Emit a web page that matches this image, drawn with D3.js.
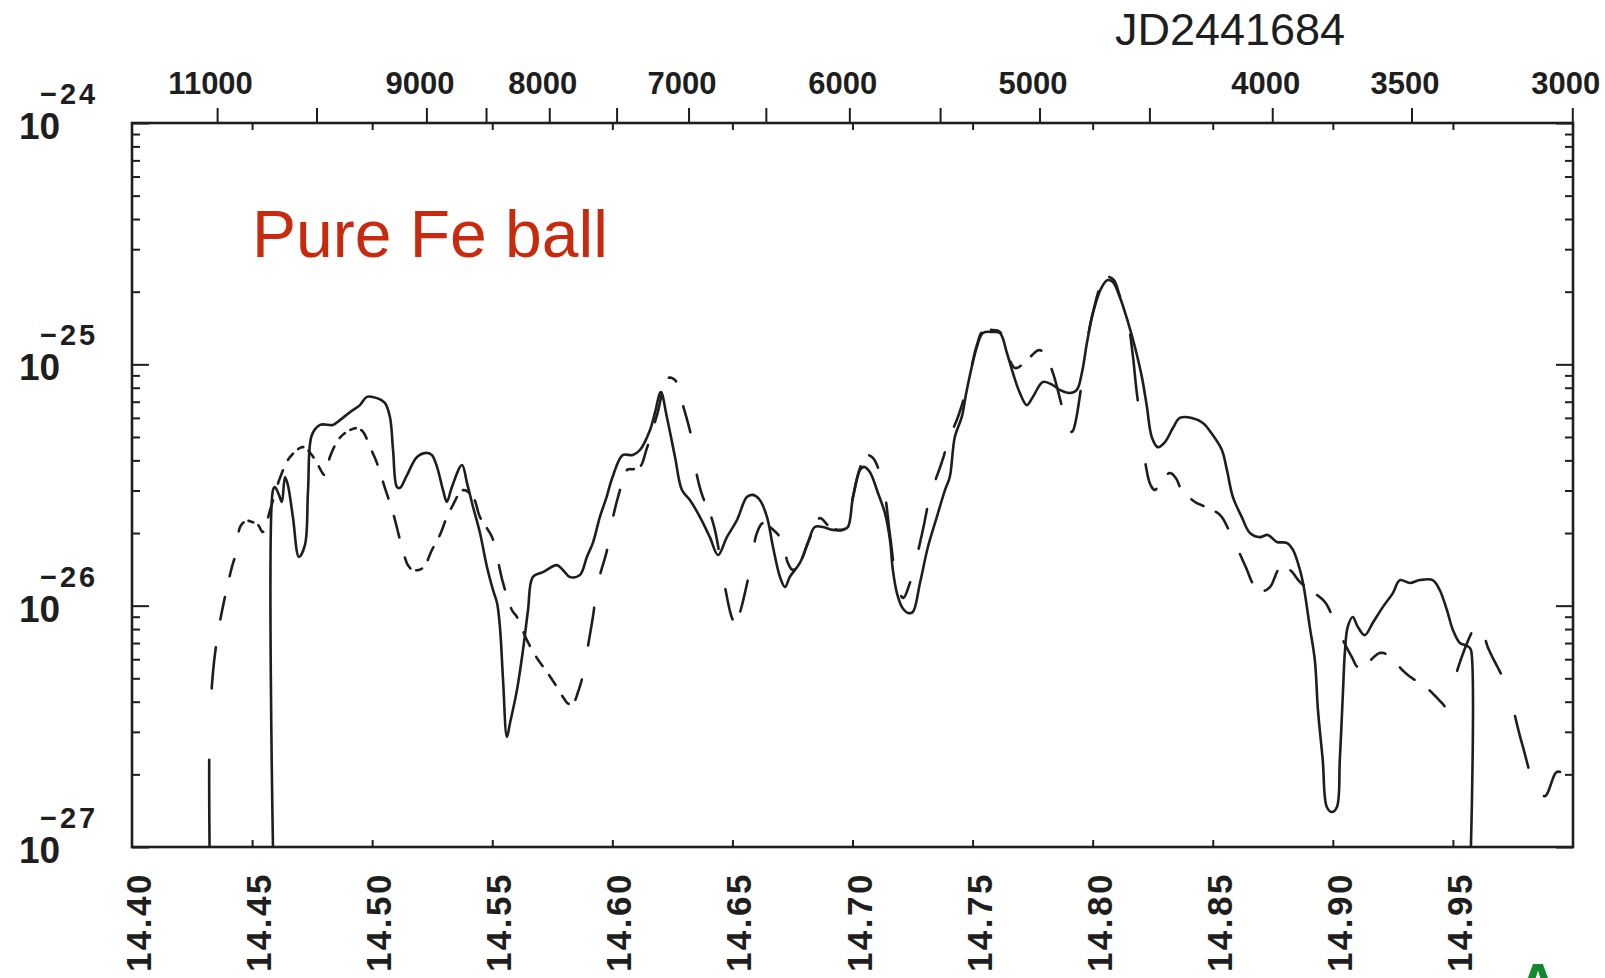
<!DOCTYPE html>
<html>
<head>
<meta charset="utf-8">
<script src="https://cdn.jsdelivr.net/npm/d3@7"></script>
<style>
  html, body { margin: 0; padding: 0; background: #fff; }
  svg { display: block; }
  text { font-family: "Liberation Sans", Arial, sans-serif; }
</style>
</head>
<body>
<svg id="chart" width="1605" height="978"></svg>
<script>
// ---- data: [log10 frequency (Hz), log10 flux] ----
const solidCurve = [
  [14.4587,-27.0],[14.4587,-25.521],[14.4595,-25.508],[14.4612,-25.541],[14.4624,-25.570],[14.4637,-25.467],
  [14.4649,-25.500],[14.4670,-25.633],[14.4695,-25.798],[14.4720,-25.749],[14.4733,-25.521],[14.4749,-25.293],
  [14.4783,-25.251],[14.4837,-25.251],[14.4866,-25.231],[14.4908,-25.198],[14.4949,-25.169],[14.4978,-25.135],
  [14.5020,-25.140],[14.5053,-25.160],[14.5074,-25.218],[14.5087,-25.355],[14.5103,-25.508],[14.5116,-25.512],
  [14.5145,-25.459],[14.5187,-25.384],[14.5228,-25.367],[14.5249,-25.376],[14.5270,-25.425],[14.5295,-25.521],
  [14.5311,-25.570],[14.5332,-25.508],[14.5374,-25.417],[14.5395,-25.492],[14.5420,-25.591],[14.5449,-25.699],
  [14.5478,-25.840],[14.5503,-25.935],[14.5520,-25.989],[14.5532,-26.088],[14.5545,-26.308],[14.5561,-26.544],
  [14.5574,-26.486],[14.5603,-26.349],[14.5628,-26.184],[14.5649,-26.018],[14.5669,-25.881],[14.5711,-25.861],
  [14.5769,-25.832],[14.5794,-25.852],[14.5823,-25.881],[14.5865,-25.873],[14.5894,-25.798],[14.5919,-25.740],
  [14.5948,-25.633],[14.5976,-25.550],[14.6001,-25.467],[14.6043,-25.376],[14.6085,-25.376],[14.6115,-25.355],
  [14.6157,-25.272],[14.6177,-25.202],[14.6202,-25.115],[14.6227,-25.218],[14.6261,-25.384],[14.6290,-25.521],
  [14.6323,-25.562],[14.6365,-25.633],[14.6406,-25.716],[14.6440,-25.790],[14.6477,-25.716],[14.6519,-25.645],
  [14.6560,-25.550],[14.6585,-25.541],[14.6614,-25.562],[14.6644,-25.633],[14.6669,-25.757],[14.6698,-25.881],
  [14.6719,-25.923],[14.6739,-25.881],[14.6781,-25.823],[14.6814,-25.740],[14.6843,-25.674],[14.6877,-25.674],
  [14.6918,-25.686],[14.6960,-25.686],[14.6981,-25.674],[14.7002,-25.550],[14.7031,-25.438],[14.7048,-25.425],
  [14.7072,-25.446],[14.7106,-25.533],[14.7135,-25.616],[14.7156,-25.728],[14.7168,-25.852],[14.7185,-25.948],
  [14.7206,-26.006],[14.7231,-26.030],[14.7251,-26.026],[14.7281,-25.906],[14.7314,-25.757],[14.7351,-25.633],
  [14.7385,-25.521],[14.7405,-25.467],[14.7426,-25.301],[14.7455,-25.218],[14.7476,-25.106],[14.7518,-24.928],
  [14.7543,-24.870],[14.7585,-24.866],[14.7614,-24.870],[14.7643,-24.953],[14.7668,-25.036],[14.7697,-25.119],
  [14.7726,-25.169],[14.7751,-25.135],[14.7793,-25.073],[14.7834,-25.086],[14.7863,-25.106],[14.7905,-25.119],
  [14.7934,-25.106],[14.7955,-25.036],[14.7976,-24.912],[14.8001,-24.787],[14.8038,-24.680],[14.8063,-24.651],
  [14.8084,-24.659],[14.8113,-24.721],[14.8147,-24.825],[14.8176,-24.928],[14.8205,-25.053],[14.8226,-25.177],
  [14.8246,-25.301],[14.8271,-25.343],[14.8301,-25.322],[14.8334,-25.264],[14.8363,-25.222],[14.8413,-25.222],
  [14.8459,-25.243],[14.8500,-25.293],[14.8538,-25.355],[14.8559,-25.438],[14.8584,-25.550],[14.8621,-25.633],
  [14.8655,-25.699],[14.8696,-25.716],[14.8729,-25.707],[14.8767,-25.736],[14.8808,-25.740],[14.8834,-25.769],
  [14.8863,-25.852],[14.8879,-25.923],[14.8904,-26.088],[14.8925,-26.225],[14.8938,-26.432],[14.8958,-26.640],
  [14.8975,-26.834],[14.8996,-26.855],[14.9017,-26.834],[14.9029,-26.640],[14.9042,-26.362],[14.9050,-26.196],
  [14.9062,-26.088],[14.9083,-26.047],[14.9104,-26.088],[14.9133,-26.122],[14.9166,-26.072],[14.9208,-26.006],
  [14.9250,-25.948],[14.9279,-25.894],[14.9321,-25.906],[14.9362,-25.894],[14.9416,-25.894],[14.9445,-25.935],
  [14.9475,-26.018],[14.9500,-26.101],[14.9529,-26.155],[14.9550,-26.163],[14.9566,-26.171],[14.9575,-26.183],
  [14.9575,-27.0]
];

const dashedCurve = [
  [14.4323,-27.0],[14.4323,-26.528],[14.4337,-26.279],[14.4358,-26.113],[14.4387,-25.964],[14.4416,-25.840],
  [14.4437,-25.769],[14.4450,-25.674],[14.4475,-25.649],[14.4500,-25.653],[14.4525,-25.666],[14.4545,-25.695],
  [14.4575,-25.604],[14.4616,-25.471],[14.4658,-25.384],[14.4712,-25.343],[14.4749,-25.376],[14.4774,-25.417],
  [14.4803,-25.459],[14.4824,-25.384],[14.4858,-25.314],[14.4887,-25.285],[14.4937,-25.264],[14.4962,-25.280],
  [14.4991,-25.343],[14.5020,-25.409],[14.5053,-25.512],[14.5087,-25.616],[14.5124,-25.757],[14.5149,-25.832],
  [14.5170,-25.852],[14.5211,-25.844],[14.5249,-25.769],[14.5282,-25.707],[14.5311,-25.633],[14.5332,-25.591],
  [14.5378,-25.521],[14.5420,-25.550],[14.5449,-25.633],[14.5499,-25.716],[14.5520,-25.798],[14.5545,-25.906],
  [14.5582,-26.018],[14.5603,-26.047],[14.5644,-26.142],[14.5686,-26.217],[14.5728,-26.275],[14.5769,-26.337],
  [14.5794,-26.378],[14.5819,-26.407],[14.5840,-26.399],[14.5857,-26.358],[14.5878,-26.287],[14.5898,-26.171],
  [14.5919,-26.047],[14.5940,-25.906],[14.5978,-25.769],[14.6003,-25.633],[14.6032,-25.521],[14.6061,-25.438],
  [14.6090,-25.434],[14.6115,-25.425],[14.6144,-25.347],[14.6186,-25.210],[14.6231,-25.057],[14.6261,-25.065],
  [14.6290,-25.156],[14.6332,-25.314],[14.6352,-25.459],[14.6377,-25.550],[14.6406,-25.616],[14.6427,-25.686],
  [14.6448,-25.798],[14.6469,-25.923],[14.6502,-26.059],[14.6515,-26.072],[14.6531,-26.030],[14.6573,-25.852],
  [14.6602,-25.699],[14.6627,-25.658],[14.6656,-25.674],[14.6706,-25.728],[14.6731,-25.823],[14.6752,-25.852],
  [14.6781,-25.823],[14.6814,-25.740],[14.6843,-25.674],[14.6864,-25.637],[14.6906,-25.674],[14.6948,-25.686],
  [14.6977,-25.674],[14.7002,-25.550],[14.7031,-25.430],[14.7056,-25.376],[14.7085,-25.388],[14.7127,-25.500],
  [14.7156,-25.707],[14.7181,-25.885],[14.7210,-25.968],[14.7239,-25.906],[14.7293,-25.686],[14.7322,-25.550],
  [14.7372,-25.405],[14.7405,-25.301],[14.7439,-25.218],[14.7476,-25.098],[14.7518,-24.920],[14.7543,-24.862],
  [14.7585,-24.858],[14.7614,-24.866],[14.7643,-24.949],[14.7676,-25.015],[14.7705,-25.003],[14.7739,-24.970],
  [14.7780,-24.941],[14.7822,-25.003],[14.7876,-25.189],[14.7897,-25.264],[14.7913,-25.280],[14.7955,-25.077],
  [14.7976,-24.912],[14.8001,-24.787],[14.8038,-24.663],[14.8063,-24.638],[14.8088,-24.651],[14.8113,-24.717],
  [14.8147,-24.825],[14.8167,-24.961],[14.8184,-25.119],[14.8238,-25.492],[14.8259,-25.521],[14.8280,-25.492],
  [14.8321,-25.450],[14.8346,-25.471],[14.8371,-25.521],[14.8426,-25.570],[14.8480,-25.595],[14.8530,-25.624],
  [14.8571,-25.695],[14.8634,-25.832],[14.8679,-25.927],[14.8709,-25.939],[14.8738,-25.923],[14.8783,-25.840],
  [14.8821,-25.852],[14.8863,-25.902],[14.8904,-25.935],[14.8967,-25.985],[14.9021,-26.101],[14.9079,-26.213],
  [14.9104,-26.254],[14.9133,-26.246],[14.9196,-26.196],[14.9229,-26.204],[14.9258,-26.234],[14.9312,-26.287],
  [14.9391,-26.341],[14.9454,-26.403],[14.9483,-26.432],[14.9516,-26.275],[14.9591,-26.088],[14.9612,-26.068],
  [14.9645,-26.171],[14.9724,-26.337],[14.9787,-26.569],[14.9849,-26.764],[14.9883,-26.789],[14.9933,-26.689],
  [14.9966,-26.697],[15.0000,-26.710]
];

// axis values
const freqTicks = [14.40, 14.45, 14.50, 14.55, 14.60, 14.65, 14.70, 14.75, 14.80, 14.85, 14.90, 14.95];
const wavelengthTicks = [11000, 10000, 9000, 8500, 8000, 7500, 7000, 6500, 6000, 5500, 5000, 4500, 4000, 3500, 3000];
const wavelengthLabels = [11000, 9000, 8000, 7000, 6000, 5000, 4000, 3500, 3000];
const fluxDecades = [-27, -26, -25, -24];
const epochLabel = "JD2441684";
const panelNote = "Pure Fe ball";
const panelLetter = "A";

// ---- layout ----
const C_ANGSTROM = 2.998e18;           // speed of light in Å/s
const frame = { left: 132, right: 1573, top: 123, bottom: 847 };
const ink = "#1e1e1e";

const svg = d3.select("#chart");

const x = d3.scaleLinear().domain([14.4, 15.0]).range([frame.left, frame.right]);
const y = d3.scaleLog().domain([1e-27, 1e-24]).range([frame.bottom, frame.top]);
// wavelength axis shares the frequency axis: lambda = c / nu
const xLambda = d3.scaleLog()
  .domain([C_ANGSTROM / Math.pow(10, 14.4), C_ANGSTROM / Math.pow(10, 15.0)])
  .range([frame.left, frame.right]);

svg.append("defs").append("clipPath").attr("id", "plotClip")
  .append("rect")
  .attr("x", frame.left).attr("y", frame.top)
  .attr("width", frame.right - frame.left).attr("height", frame.bottom - frame.top);

// ---- frame ----
svg.append("rect")
  .attr("x", frame.left).attr("y", frame.top)
  .attr("width", frame.right - frame.left).attr("height", frame.bottom - frame.top)
  .attr("fill", "none").attr("stroke", ink).attr("stroke-width", 2.6);

function styleAxis(g) {
  g.select(".domain").remove();
  g.selectAll(".tick line").attr("stroke", ink).attr("stroke-width", 2);
}

// top: wavelength ticks outward, labels on selected values
const topAxis = svg.append("g")
  .attr("transform", `translate(0,${frame.top})`)
  .call(d3.axisTop(xLambda)
    .tickValues(wavelengthTicks)
    .tickSize(15)
    .tickPadding(14)
    .tickFormat(d => wavelengthLabels.includes(d) ? String(d) : ""))
  .call(styleAxis);
topAxis.selectAll(".tick text")
  .attr("fill", ink).attr("font-size", 31).attr("font-weight", "bold")
  .attr("dx", -7);

// top: short inward frequency ticks
svg.append("g")
  .attr("transform", `translate(0,${frame.top})`)
  .call(d3.axisBottom(x).tickValues(freqTicks.slice(1)).tickSize(7).tickFormat(""))
  .call(styleAxis);

// bottom: short inward frequency ticks
svg.append("g")
  .attr("transform", `translate(0,${frame.bottom})`)
  .call(d3.axisTop(x).tickValues(freqTicks.slice(1)).tickSize(7).tickFormat(""))
  .call(styleAxis);

// bottom: rotated frequency labels
svg.append("g").selectAll("text")
  .data(freqTicks)
  .join("text")
  .attr("transform", d => `translate(${x(d) + 19},872) rotate(-90)`)
  .attr("text-anchor", "end")
  .attr("font-size", 35).attr("font-weight", "bold")
  .attr("letter-spacing", 2.5)
  .attr("fill", ink)
  .text(d => d3.format(".2f")(d));

// left / right: log flux ticks pointing into the frame
const minorFlux = y.ticks().filter(v => Math.abs(Math.log10(v) - Math.round(Math.log10(v))) > 1e-6);
const majorFlux = fluxDecades.map(e => Math.pow(10, e));
[[frame.left, d3.axisRight], [frame.right, d3.axisLeft]].forEach(([xPos, axisFn]) => {
  svg.append("g").attr("transform", `translate(${xPos},0)`)
    .call(axisFn(y).tickValues(majorFlux).tickSize(17).tickFormat(""))
    .call(styleAxis);
  svg.append("g").attr("transform", `translate(${xPos},0)`)
    .call(axisFn(y).tickValues(minorFlux).tickSize(8).tickFormat(""))
    .call(styleAxis);
});

// left: power-of-ten labels
const fluxLabels = svg.append("g").attr("fill", ink).attr("font-weight", "bold");
fluxDecades.forEach(e => {
  const yy = y(Math.pow(10, e));
  fluxLabels.append("text").attr("x", 19).attr("y", yy + 16)
    .attr("font-size", 37).text("10");
  fluxLabels.append("text").attr("x", 40).attr("y", yy - 19)
    .attr("font-size", 29).attr("letter-spacing", 3)
    .text("\u2212" + Math.abs(e));
});

// epoch label
svg.append("text")
  .attr("x", 1230).attr("y", 45)
  .attr("text-anchor", "middle")
  .attr("font-size", 45)
  .attr("fill", ink)
  .text(epochLabel);

// ---- curves ----
const plot = svg.append("g").attr("clip-path", "url(#plotClip)");
const smoothLine = d3.line()
  .x(d => x(d[0]))
  .y(d => y(Math.pow(10, d[1])))
  .curve(d3.curveCatmullRom.alpha(0.5));

plot.append("path")
  .attr("d", smoothLine(solidCurve))
  .attr("fill", "none").attr("stroke", ink)
  .attr("stroke-width", 2.6).attr("stroke-linejoin", "round").attr("stroke-linecap", "round");

// Pen-plotter style dashing: the dash pattern advances with wavelength
// (plus a small share of the vertical travel), so dashes widen toward the blue.
function plotterDashes(pts, onLen, offLen, kVert) {
  const period = onLen + offLen;
  const pieces = [];
  let cur = null, phase = 0;
  for (let i = 1; i < pts.length; i++) {
    const a = pts[i - 1], b = pts[i];
    const len = Math.hypot(b.lam - a.lam, kVert * (b.py - a.py));
    let remaining = len, t = 0;
    while (remaining > 1e-9) {
      const on = phase < onLen;
      const toEdge = (on ? onLen : period) - phase;
      const step = Math.min(toEdge, remaining);
      const tNext = t + step / len;
      if (on) {
        const p0 = [a.px + (b.px - a.px) * t, a.py + (b.py - a.py) * t];
        const p1 = [a.px + (b.px - a.px) * tNext, a.py + (b.py - a.py) * tNext];
        if (!cur) { cur = [p0]; pieces.push(cur); }
        cur.push(p1);
      } else {
        cur = null;
      }
      if (step === toEdge) {
        phase = on ? onLen : 0;
        if (on) cur = null;
      } else {
        phase += step;
      }
      remaining -= step;
      t = tNext;
    }
  }
  return pieces;
}

// trace the smoothed dashed curve finely, then cut it into dashes
const guide = plot.append("path").attr("d", smoothLine(dashedCurve))
  .attr("fill", "none").attr("stroke", "none");
const guideNode = guide.node();
const guideLen = guideNode.getTotalLength();
const dashedPts = d3.range(0, guideLen, 1).concat([guideLen]).map(s => {
  const p = guideNode.getPointAtLength(s);
  return { px: p.x, py: p.y, lam: C_ANGSTROM / Math.pow(10, x.invert(p.x)) };
});
guide.remove();

plot.append("g").selectAll("path")
  .data(plotterDashes(dashedPts, 50, 50, 0.57))
  .join("path")
  .attr("d", d => d3.line()(d))
  .attr("fill", "none").attr("stroke", ink)
  .attr("stroke-width", 2.6).attr("stroke-linejoin", "round").attr("stroke-linecap", "round");

// ---- annotations ----
svg.append("text")
  .attr("x", 252).attr("y", 257)
  .attr("font-size", 66)
  .attr("fill", "#c9290c")
  .text(panelNote);

svg.append("text")
  .attr("x", 1538).attr("y", 1004)
  .attr("text-anchor", "middle")
  .attr("font-size", 58).attr("font-weight", "bold")
  .attr("fill", "#12892f")
  .text(panelLetter);
</script>
</body>
</html>
